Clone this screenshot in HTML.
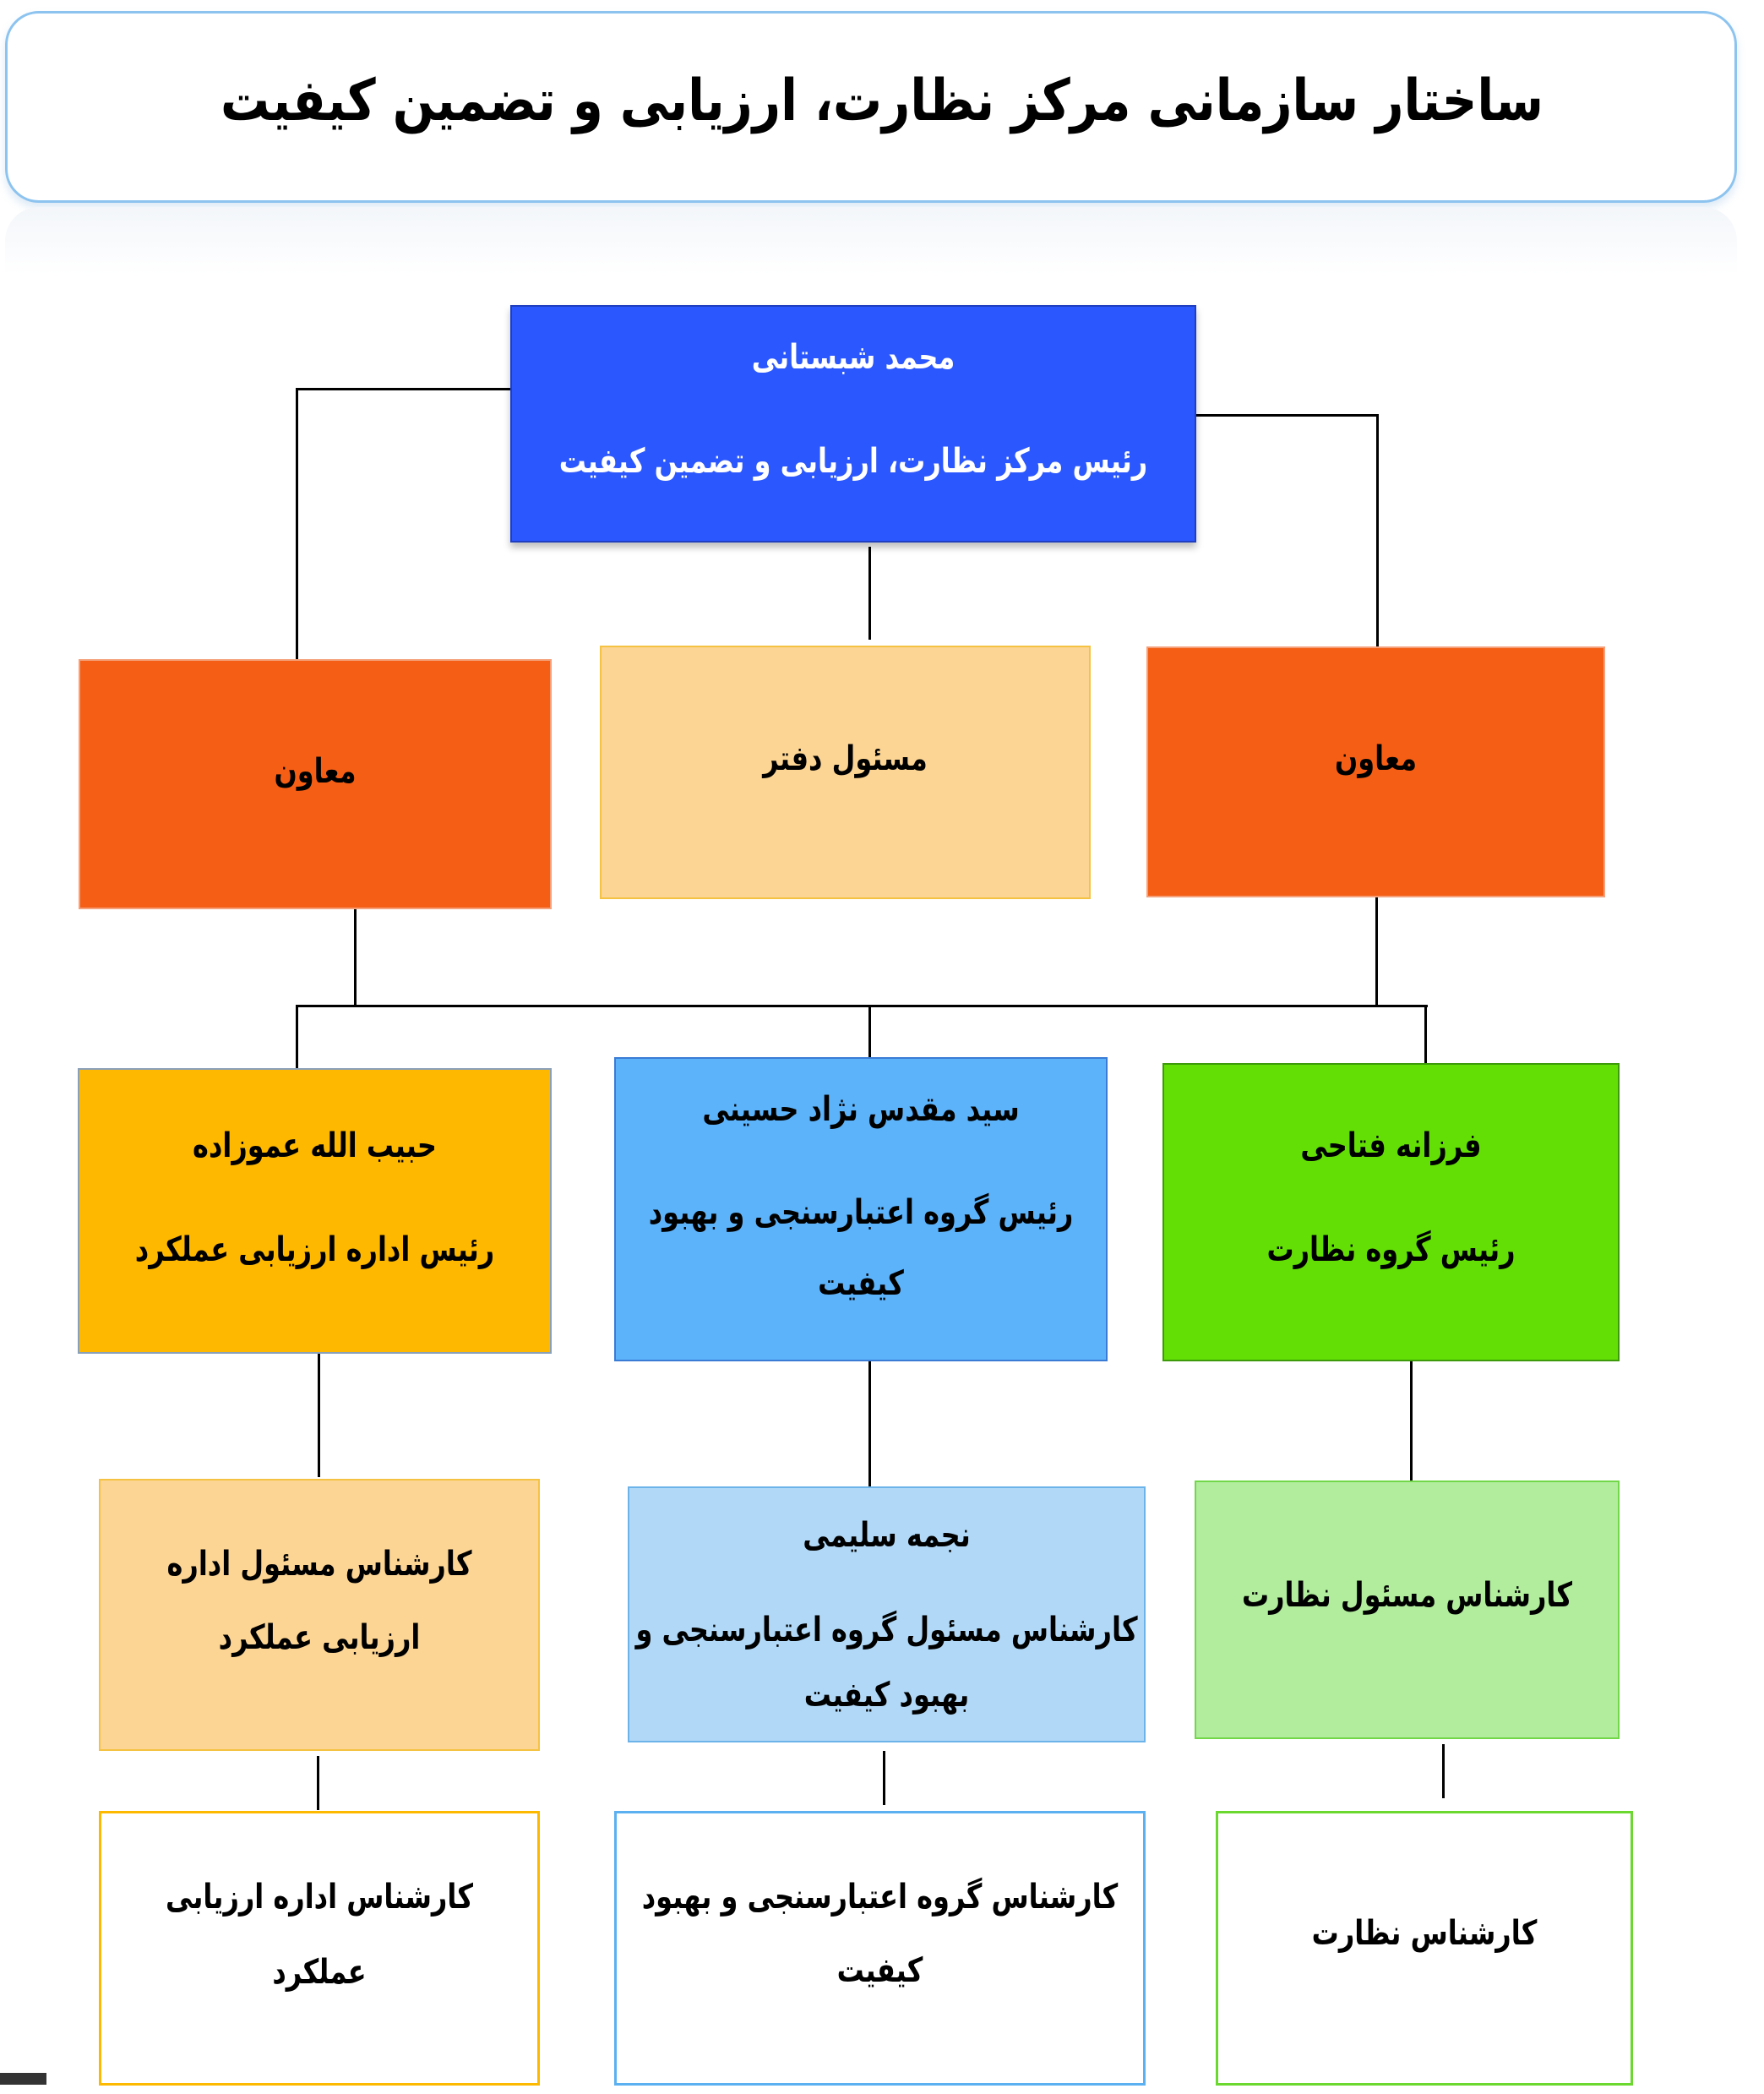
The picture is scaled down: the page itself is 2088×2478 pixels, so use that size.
<!DOCTYPE html>
<html><head><meta charset="utf-8"><style>
body{margin:0;width:2088px;height:2478px;background:#fff;position:relative;overflow:hidden;font-family:"DejaVu Sans",sans-serif;}
.b{position:absolute;box-sizing:border-box;}
.t{position:absolute;left:-100px;right:-100px;text-align:center;direction:rtl;font-weight:bold;font-size:40px;line-height:50px;transform:translateY(-25px) scaleX(0.8);white-space:nowrap;}
.h{position:absolute;background:#000;height:3px;}
.v{position:absolute;background:#000;width:3px;}
</style></head><body>
<div class="b" style="left:6px;top:13px;width:2050px;height:227px;border:3px solid #8cc3ef;border-radius:40px;box-shadow:0 6px 10px rgba(120,170,220,.25)"></div>
<div class="b" style="left:6px;top:245px;width:2050px;height:80px;border-radius:40px 40px 0 0;background:linear-gradient(#f3f6fa,#fff)"></div>
<div class="t" style="left:0;right:0;top:120px;font-size:68px;line-height:80px;transform:translateY(-40px) scaleX(0.85)">ساختار سازمانی مرکز نظارت، ارزیابی و تضمین کیفیت</div>

<!-- connectors -->
<div class="h" style="left:350px;top:459px;width:256px"></div>
<div class="v" style="left:350px;top:459px;height:322px"></div>
<div class="h" style="left:1414px;top:490px;width:218px"></div>
<div class="v" style="left:1629px;top:490px;height:276px"></div>
<div class="v" style="left:1028px;top:647px;height:110px"></div>
<div class="h" style="left:350px;top:1189px;width:1340px"></div>
<div class="v" style="left:419px;top:1076px;height:115px"></div>
<div class="v" style="left:1628px;top:1062px;height:129px"></div>
<div class="v" style="left:350px;top:1189px;height:76px"></div>
<div class="v" style="left:1028px;top:1189px;height:63px"></div>
<div class="v" style="left:1686px;top:1189px;height:70px"></div>
<div class="v" style="left:376px;top:1600px;height:148px"></div>
<div class="v" style="left:1028px;top:1611px;height:149px"></div>
<div class="v" style="left:1669px;top:1605px;height:148px"></div>
<div class="v" style="left:375px;top:2078px;height:64px"></div>
<div class="v" style="left:1045px;top:2072px;height:64px"></div>
<div class="v" style="left:1707px;top:2064px;height:64px"></div>

<!-- row 0 -->
<div class="b" style="left:604px;top:361px;width:812px;height:281px;background:#2b57fe;border:2px solid #1f3fc0;box-shadow:0 6px 8px rgba(0,0,0,.25);color:#fff">
<div class="t" style="top:60px">محمد شبستانی</div>
<div class="t" style="top:183px">رئیس مرکز نظارت، ارزیابی و تضمین کیفیت</div></div>

<!-- row 1 -->
<div class="b" style="left:93px;top:780px;width:560px;height:296px;background:#f55f15;border:2px solid #f4a07a"><div class="t" style="top:131px">معاون</div></div>
<div class="b" style="left:710px;top:764px;width:581px;height:300px;background:#fcd594;border:2px solid #f5c242"><div class="t" style="top:132px">مسئول دفتر</div></div>
<div class="b" style="left:1357px;top:765px;width:543px;height:297px;background:#f55f15;border:2px solid #f4a07a"><div class="t" style="top:131px">معاون</div></div>

<!-- row 2 -->
<div class="b" style="left:92px;top:1264px;width:561px;height:338px;background:#feb800;border:2px solid #8aa0b8">
<div class="t" style="top:90px">حبیب الله عموزاده</div><div class="t" style="top:213px">رئیس اداره ارزیابی عملکرد</div></div>
<div class="b" style="left:727px;top:1251px;width:584px;height:360px;background:#5db3fa;border:2px solid #3a7bd5">
<div class="t" style="top:60px">سید مقدس نژاد حسینی</div><div class="t" style="top:182px">رئیس گروه اعتبارسنجی و بهبود</div><div class="t" style="top:266px">کیفیت</div></div>
<div class="b" style="left:1376px;top:1258px;width:541px;height:353px;background:#63df05;border:2px solid #3d9a0a">
<div class="t" style="top:96px">فرزانه فتاحی</div><div class="t" style="top:219px">رئیس گروه نظارت</div></div>

<!-- row 3 -->
<div class="b" style="left:117px;top:1750px;width:522px;height:322px;background:#fcd594;border:2px solid #f5c242">
<div class="t" style="top:99px">کارشناس مسئول اداره</div><div class="t" style="top:186px">ارزیابی عملکرد</div></div>
<div class="b" style="left:743px;top:1759px;width:613px;height:303px;background:#b1d9f7;border:2px solid #6cb3ea">
<div class="t" style="top:56px">نجمه سلیمی</div><div class="t" style="top:168px">کارشناس مسئول گروه اعتبارسنجی و</div><div class="t" style="top:245px">بهبود کیفیت</div></div>
<div class="b" style="left:1414px;top:1752px;width:503px;height:306px;background:#b1ed9d;border:2px solid #72d84a">
<div class="t" style="top:134px">کارشناس مسئول نظارت</div></div>

<!-- row 4 -->
<div class="b" style="left:117px;top:2143px;width:522px;height:325px;background:#fff;border:3px solid #fcb900">
<div class="t" style="top:99px">کارشناس اداره ارزیابی</div><div class="t" style="top:188px">عملکرد</div></div>
<div class="b" style="left:727px;top:2143px;width:629px;height:325px;background:#fff;border:3px solid #5ab0f0">
<div class="t" style="top:99px">کارشناس گروه اعتبارسنجی و بهبود</div><div class="t" style="top:186px">کیفیت</div></div>
<div class="b" style="left:1439px;top:2143px;width:494px;height:325px;background:#fff;border:3px solid #6ad82e">
<div class="t" style="top:142px">کارشناس نظارت</div></div>

<div class="b" style="left:0;top:2453px;width:55px;height:14px;background:#333"></div>
</body></html>
